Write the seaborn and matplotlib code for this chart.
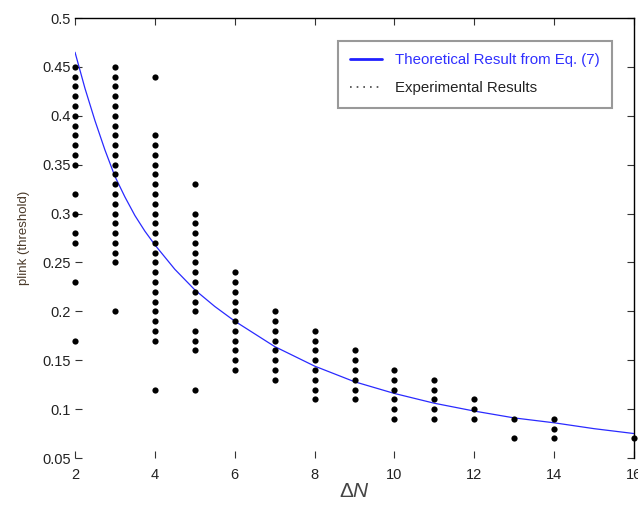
import numpy as np
import pandas as pd
import matplotlib
matplotlib.use("Agg")
import matplotlib.pyplot as plt
from matplotlib.lines import Line2D
import seaborn as sns

# experimental points, one list per Delta N column
exp_2 = [0.45, 0.44, 0.43, 0.42, 0.41, 0.40, 0.39, 0.38, 0.37, 0.36, 0.35,
         0.32, 0.30, 0.28, 0.27, 0.23, 0.17]
exp_3 = [0.45, 0.44, 0.43, 0.42, 0.41, 0.40, 0.39, 0.38, 0.37, 0.36, 0.35,
         0.34, 0.33, 0.32, 0.31, 0.30, 0.29, 0.28, 0.27, 0.26, 0.25, 0.20]
exp_4 = [0.44, 0.38, 0.37, 0.36, 0.35, 0.34, 0.33, 0.32, 0.31, 0.30, 0.29,
         0.28, 0.27, 0.26, 0.25, 0.24, 0.23, 0.22, 0.21, 0.20, 0.19, 0.18,
         0.17, 0.12]
exp_5 = [0.33, 0.30, 0.29, 0.28, 0.27, 0.26, 0.25, 0.24, 0.23, 0.22, 0.21,
         0.20, 0.18, 0.17, 0.16, 0.12]
exp_6 = [0.24, 0.23, 0.22, 0.21, 0.20, 0.19, 0.18, 0.17, 0.16, 0.15, 0.14]
exp_7 = [0.20, 0.19, 0.18, 0.17, 0.16, 0.15, 0.14, 0.13]
exp_8 = [0.18, 0.17, 0.16, 0.15, 0.14, 0.13, 0.12, 0.11]
exp_9 = [0.16, 0.15, 0.14, 0.13, 0.12, 0.11]
exp_10 = [0.14, 0.13, 0.12, 0.11, 0.10, 0.09]
exp_11 = [0.13, 0.12, 0.11, 0.10, 0.09]
exp_12 = [0.11, 0.10, 0.09]
exp_13 = [0.09, 0.07]
exp_14 = [0.09, 0.08, 0.07]
exp_16 = [0.07]

exp_cols = {2: exp_2, 3: exp_3, 4: exp_4, 5: exp_5, 6: exp_6, 7: exp_7,
            8: exp_8, 9: exp_9, 10: exp_10, 11: exp_11, 12: exp_12,
            13: exp_13, 14: exp_14, 16: exp_16}

# theoretical curve
theory_N = [2, 2.25, 2.5, 2.75, 3, 3.25, 3.5, 3.75, 4, 4.5, 5, 5.5, 6, 7, 8,
            9, 10, 11, 12, 13, 14, 15, 16]
theory_p = [0.465, 0.428, 0.395, 0.365, 0.338, 0.317, 0.298, 0.282, 0.268,
            0.243, 0.222, 0.205, 0.190, 0.164, 0.144, 0.128, 0.116, 0.106,
            0.098, 0.091, 0.086, 0.080, 0.075]

x_ticks = [2, 4, 6, 8, 10, 12, 14, 16]
y_ticks = [0.05, 0.1, 0.15, 0.2, 0.25, 0.3, 0.35, 0.4, 0.45, 0.5]
y_ticklabels = ["0.05", "0.1", "0.15", "0.2", "0.25", "0.3", "0.35", "0.4",
                "0.45", "0.5"]

exp_df = pd.DataFrame([(n, p) for n, vals in exp_cols.items() for p in vals],
                      columns=["N", "p"])
theory_df = pd.DataFrame({"N": theory_N, "p": theory_p})

sns.set_style("white")
plt.rcParams["font.family"] = ["Liberation Sans", "DejaVu Sans"]
plt.rcParams["mathtext.fontset"] = "custom"
plt.rcParams["mathtext.rm"] = "Liberation Sans"
plt.rcParams["mathtext.it"] = "Liberation Sans:italic"

fig = plt.figure(figsize=(6.38, 5.11), dpi=100)
ax = fig.add_axes([75 / 638, 53 / 511, 559 / 638, 440 / 511])

sns.lineplot(data=theory_df, x="N", y="p", ax=ax, color="#2a2aff",
             linewidth=0.9, label="Theoretical Result from Eq. (7)")
sns.scatterplot(data=exp_df, x="N", y="p", ax=ax, color="black", s=20,
                marker="o", edgecolor="black", linewidth=0, clip_on=False,
                zorder=3)

ax.set_xlim(2, 16)
ax.set_ylim(0.05, 0.5)
ax.set_xticks(x_ticks)
ax.set_yticks(y_ticks)
ax.set_yticklabels(y_ticklabels)

for side in ["left", "bottom"]:
    ax.spines[side].set_visible(False)
for side in ["top", "right"]:
    ax.spines[side].set_color("black")
    ax.spines[side].set_linewidth(1.0)

ax.tick_params(axis="both", direction="in", length=5, width=0.8,
               top=True, right=True, left=True, bottom=True,
               labelsize=10.5, colors="#333333", labelcolor="#222222")
ax.tick_params(axis="y", pad=3)
ax.tick_params(axis="x", pad=7)

ax.set_xlabel(r"$\Delta\mathit{N}$", fontsize=15, color="#444444", labelpad=0)
ax.set_ylabel("plink (threshold)", fontsize=9.5, color="#4a3a2a", labelpad=9)

handles = [Line2D([], [], color="#2020ff", linewidth=2),
           Line2D([], [], color="#444444", linestyle=(0, (1, 3)), linewidth=1.2)]
leg = ax.legend(handles, ["Theoretical Result from Eq. (7)", "Experimental Results"],
                loc="upper right", bbox_to_anchor=(0.961, 0.948),
                frameon=True, fancybox=False, edgecolor="#808080",
                fontsize=10.8, handlelength=2.1, handletextpad=0.9,
                labelspacing=0.95, borderpad=0.82, borderaxespad=0)
leg.get_frame().set_linewidth(1.5)
leg.get_texts()[0].set_color("#3030ff")
leg.get_texts()[1].set_color("#222222")

fig.savefig("out.png", dpi=100)
